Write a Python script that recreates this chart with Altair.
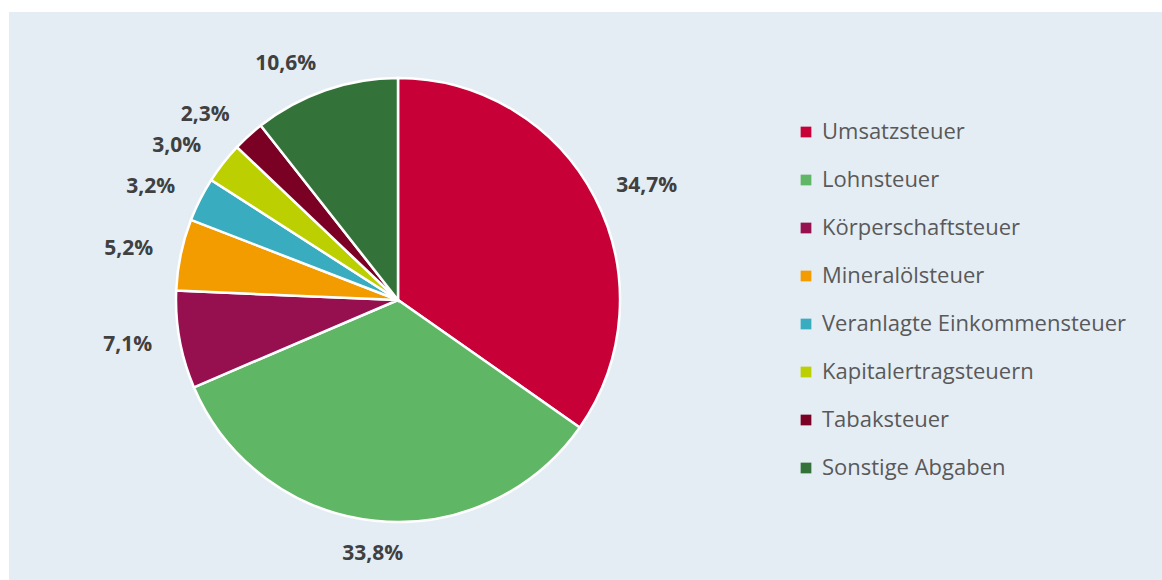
import altair as alt
import pandas as pd

categories = ["Umsatzsteuer", "Lohnsteuer", "Körperschaftsteuer", "Mineralölsteuer",
              "Veranlagte Einkommensteuer", "Kapitalertragsteuern", "Tabaksteuer", "Sonstige Abgaben"]
shares = [34.7, 33.8, 7.1, 5.2, 3.2, 3.0, 2.3, 10.6]
labels = ["34,7%", "33,8%", "7,1%", "5,2%", "3,2%", "3,0%", "2,3%", "10,6%"]
colors = ["#c80038", "#5fb665", "#961050", "#f39c00", "#3aacbf", "#bccf00", "#7a0024", "#33733a"]

df = pd.DataFrame({"kategorie": categories, "anteil": shares, "label": labels,
                   "ord": list(range(len(categories)))})

CX, CY = 389, 288
color = alt.Color("kategorie:N", sort=categories,
                  scale=alt.Scale(domain=categories, range=colors),
                  legend=alt.Legend(title=None, orient="none", legendX=786, legendY=109,
                                    symbolType="square", symbolSize=115, symbolStrokeWidth=0,
                                    labelFont="Open Sans", labelFontSize=22, labelColor="#595959",
                                    rowPadding=26, labelOffset=5, labelLimit=400))

base = alt.Chart(df).transform_window(
    cum="sum(anteil)", sort=[alt.SortField("ord")]
).transform_joinaggregate(
    total="sum(anteil)"
).transform_calculate(
    s="(datum.cum - datum.anteil) / datum.total",
    e="datum.cum / datum.total",
    mid="(datum.cum - datum.anteil / 2) / datum.total",
)

theta_scale = alt.Scale(domain=[0, 1])

pie = base.mark_arc(outerRadius=222, stroke="white", strokeWidth=2.5).encode(
    theta=alt.Theta("s:Q", scale=theta_scale),
    theta2="e:Q",
    color=color,
    x=alt.value(CX), y=alt.value(CY),
)

lab = base.encode(
    theta=alt.Theta("mid:Q", scale=theta_scale),
    text="label:N",
    x=alt.value(CX), y=alt.value(CY),
)

txt = dict(font="Open Sans", fontWeight="bold", fontSize=21, color="#404040")
right = lab.transform_filter("datum.mid < 0.45").mark_text(
    radius=246, align="left", baseline="middle", **txt)
bottom = lab.transform_filter("datum.mid >= 0.45 && datum.mid <= 0.55").mark_text(
    radius=244, align="center", baseline="top", **txt)
left = lab.transform_filter("datum.mid > 0.55").mark_text(
    radius=250, align="right", baseline="middle", **txt)

chart = (pie + right + bottom + left).properties(
    width=1153, height=568,
    padding={"left": 9, "top": 12, "right": 0, "bottom": 0},
    background="white",
).configure_view(fill="#e5edf4", stroke=None)

chart.save("out.html", embed_options={"renderer": "svg", "actions": False})
